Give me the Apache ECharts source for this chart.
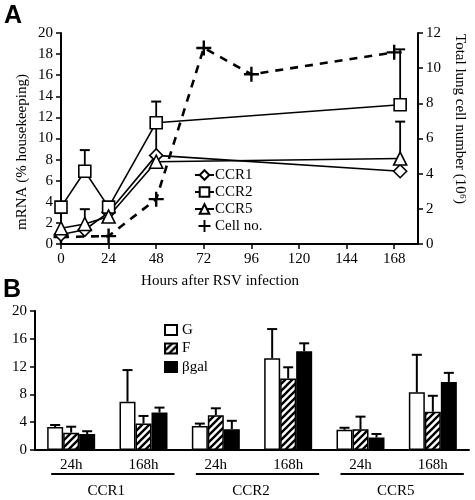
<!DOCTYPE html>
<html><head><meta charset="utf-8">
<script src="https://cdn.jsdelivr.net/npm/echarts@6/dist/echarts.min.js"></script>
<style>html,body{margin:0;padding:0;background:#fff}#c{width:475px;height:500px}</style>
</head><body><div id="c"></div>
<script>
// ---- Panel A data ----
const hours = [0, 12, 24, 48, 171];
const ccr1 = [0.9, 1.35, 3.0, 8.4, 6.9];
const ccr2 = [3.5, 6.9, 3.5, 11.5, 13.2];
const ccr5 = [1.5, 1.9, 2.6, 7.8, 8.1];
const ccr1Err = [null, null, null, 11.0, null];
const ccr2Err = [null, 8.9, null, 13.5, 18.45];
const ccr5Err = [null, 3.3, null, null, 11.6];
const cellHours = [0, 24, 48, 72, 96, 168];
const cellNo = [0.4, 0.45, 2.55, 11.15, 9.65, 10.9];

// ---- Panel B data ----
const bCategories = ['24h', '168h', '24h', '168h', '24h', '168h'];
const bGroups = ['CCR1', 'CCR2', 'CCR5'];
const gVals = [3.3, 6.95, 3.45, 13.2, 2.9, 8.3];
const gErr = [3.6, 11.5, 3.8, 17.4, 3.2, 13.7];
const fVals = [2.5, 3.8, 5.0, 10.3, 3.0, 5.5];
const fErr = [3.35, 4.9, 6.0, 11.9, 4.8, 7.8];
const bgalVals = [2.3, 5.4, 3.0, 14.2, 1.8, 9.8];
const bgalErr = [2.7, 6.1, 4.2, 15.35, 2.3, 11.1];

const FONT = 'Liberation Serif';
const BAR_W = 16;

function hatch() {
  const s = 7, cv = document.createElement('canvas');
  cv.width = s; cv.height = s;
  const ctx = cv.getContext('2d');
  ctx.fillStyle = '#fff'; ctx.fillRect(0, 0, s, s);
  ctx.strokeStyle = '#000'; ctx.lineWidth = 2.4;
  ctx.beginPath();
  ctx.moveTo(0, s); ctx.lineTo(s, 0);
  ctx.moveTo(-s / 2, s / 2); ctx.lineTo(s / 2, -s / 2);
  ctx.moveTo(s / 2, s * 1.5); ctx.lineTo(s * 1.5, s / 2);
  ctx.stroke();
  return { image: cv, repeat: 'repeat' };
}

const plusPath = 'path://M4.2,0H5.8V4.2H10V5.8H5.8V10H4.2V5.8H0V4.2H4.2Z';

const axisLineStyle = { lineStyle: { color: '#000', width: 2 } };
const labelStyle = { color: '#000', fontFamily: FONT, fontSize: 15 };

function errA(xs, vals, errs) {
  const out = [];
  xs.forEach((x, i) => { if (errs[i] != null) out.push([x, vals[i], errs[i]]); });
  return out;
}
function errB(vals, errs, k) {
  return vals.map((v, i) => [i, k, v, errs[i]]);
}

function renderErrA(params, api) {
  const p0 = api.coord([api.value(0), api.value(1)]);
  const p1 = api.coord([api.value(0), api.value(2)]);
  return { type: 'group', children: [
    { type: 'line', shape: { x1: p0[0], y1: p0[1], x2: p1[0], y2: p1[1] }, style: { stroke: '#000', lineWidth: 1.8 } },
    { type: 'line', shape: { x1: p1[0] - 5, y1: p1[1], x2: p1[0] + 5, y2: p1[1] }, style: { stroke: '#000', lineWidth: 2 } }
  ]};
}
function renderErrB(params, api) {
  const p0 = api.coord([api.value(0), api.value(2)]);
  const p1 = api.coord([api.value(0), api.value(3)]);
  const x = p0[0] + (api.value(1) - 1) * BAR_W;
  return { type: 'group', children: [
    { type: 'line', shape: { x1: x, y1: p0[1], x2: x, y2: p1[1] }, style: { stroke: '#000', lineWidth: 2 } },
    { type: 'line', shape: { x1: x - 5, y1: p1[1], x2: x + 5, y2: p1[1] }, style: { stroke: '#000', lineWidth: 2 } }
  ]};
}

const lineSeries = (name, vals, sym, size) => ({
  name, type: 'line', xAxisIndex: 0, yAxisIndex: 0,
  data: hours.map((h, i) => [h, vals[i]]),
  symbol: sym, symbolSize: size, z: 3,
  lineStyle: { color: '#000', width: 1.6 },
  itemStyle: { color: '#fff', borderColor: '#000', borderWidth: 1.6 },
  emphasis: { disabled: true }
});

const chart = echarts.init(document.getElementById('c'), null, { renderer: 'canvas' });
const option = {
  animation: false,
  backgroundColor: '#fff',
  grid: [
    { left: 61, top: 33, width: 357, height: 211 },
    { left: 35, top: 311, width: 434, height: 139 }
  ],
  xAxis: [
    { type: 'value', gridIndex: 0, min: 0, max: 180, interval: 24,
      axisLine: axisLineStyle, axisTick: { length: 5, lineStyle: { color: '#000', width: 1.5 } },
      axisLabel: Object.assign({ margin: 8, showMaxLabel: false, formatter: v => (v % 24 === 0 && v <= 168) ? String(v) : '' }, labelStyle),
      splitLine: { show: false } },
    { type: 'category', gridIndex: 1, data: bCategories,
      axisLine: axisLineStyle, axisTick: { length: 4, lineStyle: { color: '#000', width: 1.5 } },
      axisLabel: Object.assign({ margin: 8 }, labelStyle) }
  ],
  yAxis: [
    { type: 'value', gridIndex: 0, min: 0, max: 20, interval: 2, position: 'left',
      axisLine: Object.assign({ show: true }, axisLineStyle), axisTick: { show: true, length: 5, lineStyle: { color: '#000', width: 1.5 } },
      axisLabel: Object.assign({ margin: 8 }, labelStyle), splitLine: { show: false } },
    { type: 'value', gridIndex: 0, min: 0, max: 12, interval: 2, position: 'right',
      axisLine: Object.assign({ show: true }, axisLineStyle), axisTick: { show: true, length: 5, lineStyle: { color: '#000', width: 1.5 } },
      axisLabel: Object.assign({ margin: 8 }, labelStyle), splitLine: { show: false } },
    { type: 'value', gridIndex: 1, min: 0, max: 20, interval: 4,
      axisLine: Object.assign({ show: true }, axisLineStyle), axisTick: { show: true, length: 5, lineStyle: { color: '#000', width: 1.5 } },
      axisLabel: Object.assign({ margin: 8 }, labelStyle), splitLine: { show: false } }
  ],
  legend: [
    { left: 189, top: 162, orient: 'vertical', itemWidth: 19, itemHeight: 12, itemGap: 1,
      textStyle: { color: '#000', fontFamily: FONT, fontSize: 15, lineHeight: 16, padding: [0, 0, 0, -4] },
      data: ['CCR1', 'CCR2', 'CCR5', { name: 'Cell no.', icon: plusPath }] },
    { left: 159, top: 317, orient: 'vertical', itemWidth: 12, itemHeight: 10, itemGap: 2.5, icon: 'rect',
      textStyle: { color: '#000', fontFamily: FONT, fontSize: 15, lineHeight: 16 },
      data: ['G', 'F', 'βgal'] }
  ],
  series: [
    { type: 'custom', xAxisIndex: 0, yAxisIndex: 0, z: 1, renderItem: renderErrA, data: errA(hours, ccr1, ccr1Err), silent: true },
    { type: 'custom', xAxisIndex: 0, yAxisIndex: 0, z: 1, renderItem: renderErrA, data: errA(hours, ccr2, ccr2Err), silent: true },
    { type: 'custom', xAxisIndex: 0, yAxisIndex: 0, z: 1, renderItem: renderErrA, data: errA(hours, ccr5, ccr5Err), silent: true },
    lineSeries('CCR1', ccr1, 'diamond', 13),
    lineSeries('CCR2', ccr2, 'rect', 12),
    lineSeries('CCR5', ccr5, 'triangle', 13),
    { name: 'Cell no.', type: 'line', xAxisIndex: 0, yAxisIndex: 1,
      data: cellHours.map((h, i) => [h, cellNo[i]]),
      symbol: plusPath, symbolSize: 15, z: 2,
      lineStyle: { color: '#000', width: 2.6, type: [8, 7] },
      itemStyle: { color: '#000' }, emphasis: { disabled: true } },
    { name: 'G', type: 'bar', xAxisIndex: 1, yAxisIndex: 2, data: gVals, barWidth: BAR_W, barGap: '0%',
      itemStyle: { color: '#fff', borderColor: '#000', borderWidth: 1.5 } },
    { name: 'F', type: 'bar', xAxisIndex: 1, yAxisIndex: 2, data: fVals, barWidth: BAR_W, barGap: '0%',
      itemStyle: { color: hatch(), borderColor: '#000', borderWidth: 1.5 } },
    { name: 'βgal', type: 'bar', xAxisIndex: 1, yAxisIndex: 2, data: bgalVals, barWidth: BAR_W, barGap: '0%',
      itemStyle: { color: '#000', borderColor: '#000', borderWidth: 1.5 } },
    { type: 'custom', xAxisIndex: 1, yAxisIndex: 2, z: 3, renderItem: renderErrB, data: errB(gVals, gErr, 0), silent: true },
    { type: 'custom', xAxisIndex: 1, yAxisIndex: 2, z: 3, renderItem: renderErrB, data: errB(fVals, fErr, 1), silent: true },
    { type: 'custom', xAxisIndex: 1, yAxisIndex: 2, z: 3, renderItem: renderErrB, data: errB(bgalVals, bgalErr, 2), silent: true }
  ]
};
chart.setOption(option);

// titles & group annotations
const g = [
  { type: 'text', left: 4, top: 4, style: { text: 'A', font: 'bold 25px "Liberation Sans"', fill: '#000' } },
  { type: 'text', left: 3, top: 278, style: { text: 'B', font: 'bold 25px "Liberation Sans"', fill: '#000' } },
  { type: 'text', x: 22, y: 152, rotation: Math.PI / 2,
    style: { text: 'mRNA (% housekeeping)', font: '15px "' + FONT + '"', fill: '#000', textAlign: 'center', textVerticalAlign: 'middle', align: 'center', verticalAlign: 'middle' } },
  { type: 'text', x: 460, y: 119, rotation: -Math.PI / 2,
    style: { text: 'Total lung cell number (10⁶)', font: '15px "' + FONT + '"', fill: '#000', textAlign: 'center', textVerticalAlign: 'middle', align: 'center', verticalAlign: 'middle' } },
  { type: 'text', x: 220, y: 281,
    style: { text: 'Hours after RSV infection', font: '15px "' + FONT + '"', fill: '#000', textAlign: 'center', textVerticalAlign: 'middle', align: 'center', verticalAlign: 'middle' } }
];
bGroups.forEach((name, k) => {
  const c0 = chart.convertToPixel({ xAxisIndex: 1 }, 2 * k);
  const c1 = chart.convertToPixel({ xAxisIndex: 1 }, 2 * k + 1);
  const mid = (c0 + c1) / 2;
  g.push({ type: 'line', shape: { x1: c0 - 20, y1: 474, x2: c1 + 31, y2: 474 }, style: { stroke: '#000', lineWidth: 2 } });
  g.push({ type: 'text', x: mid - 1, y: 491,
    style: { text: name, font: '15px "' + FONT + '"', fill: '#000', textAlign: 'center', textVerticalAlign: 'middle', align: 'center', verticalAlign: 'middle' } });
});
chart.setOption({ graphic: g });
</script>
</body></html>
